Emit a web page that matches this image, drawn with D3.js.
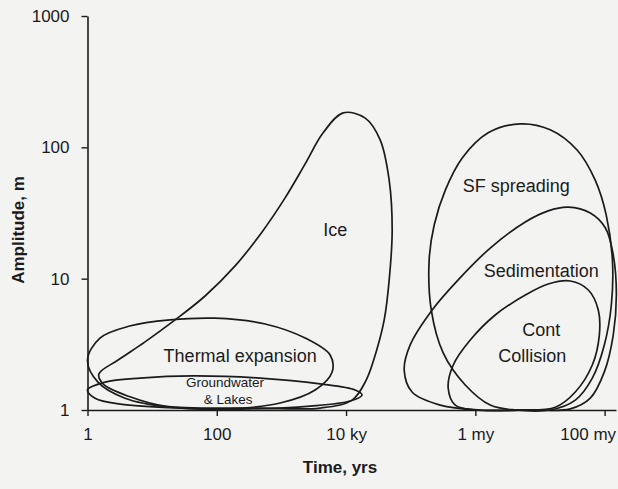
<!DOCTYPE html>
<html>
<head>
<meta charset="utf-8">
<script src="https://cdn.jsdelivr.net/npm/d3@7"></script>
<style>
  html, body { margin: 0; padding: 0; background: #f3f3f2; }
  svg { display: block; }
</style>
</head>
<body>
<svg id="chart" width="618" height="489"></svg>
<script>
// axis ticks
const xTicks = [1, 100, 1e4, 1e6, 1e8];
const xTickLabels = ["1", "100", "10 ky", "1 my", "100 my"];
const yTicks = [1, 10, 100, 1000];

// outlines of each field, [time in yrs, amplitude in m]
const ice = [
    [1.5, 1.88], [2.97, 2.4], [7.77, 3.3], [22.6, 4.85], [65.9, 7.38], [192, 12.5],
    [502, 22.7], [1140, 41.2], [2330, 74.8], [4420, 129], [9020, 183], [19800, 167],
    [33700, 114], [46500, 56], [51700, 23.5], [46500, 9.8], [38900, 4.85],
    [29200, 2.77], [20500, 1.69], [12400, 1.19], [3970, 1.035], [468, 1.035],
    [15.8, 1.07], [4.55, 1.26], [1.74, 1.58]
];
const thermal = [
    [1.0, 2.4], [1.56, 3.53], [4.5, 4.36], [18.9, 4.85], [94, 5.0], [560, 4.52],
    [2330, 3.53], [5670, 2.62], [6090, 1.95], [3320, 1.42], [955, 1.13],
    [161, 1.02], [18.9, 1.05], [3.8, 1.23], [1.45, 1.63]
];
const groundwater = [
    [1.0, 1.42], [1.87, 1.63], [6.5, 1.75], [43, 1.82], [468, 1.75], [3970, 1.58],
    [13800, 1.42], [17700, 1.3], [11600, 1.17], [2780, 1.07], [328, 1.02],
    [27, 1.035], [3.2, 1.11], [1.31, 1.23]
];
const sfSpreading = [
    [4.95e6, 151], [1.44e7, 136], [3.78e7, 95], [7.18e7, 56], [1.06e8, 30.5],
    [1.32e8, 13.9], [1.27e8, 6.3], [9.9e7, 3.13], [6.45e7, 1.75], [3.52e7, 1.19],
    [1.44e7, 1.0], [4.15e6, 1.0], [1.7e6, 1.09], [6.98e5, 1.55], [3.18e5, 2.72],
    [2.08e5, 5.78], [1.93e5, 13.9], [2.31e5, 25.6], [3.42e5, 47], [6.27e5, 83],
    [1.58e6, 129]
];
const sedimentation = [
    [2.74e7, 35], [6.0e7, 31.6], [1.03e8, 24.3], [1.36e8, 15.2], [1.52e8, 7.5],
    [1.36e8, 3.72], [9.9e7, 1.95], [6.0e7, 1.23], [2.95e7, 1.02], [7.08e6, 1.0],
    [1.19e6, 1.0], [2.86e5, 1.09], [1.05e5, 1.37], [7.93e4, 2.02], [9.82e4, 3.13],
    [2.15e5, 5.78], [5.43e5, 9.8], [1.7e6, 17.1], [5.93e6, 27], [1.34e7, 32.8]
];
const contCollision = [
    [2.95e7, 9.6], [5.6e7, 8.2], [7.98e7, 5.78], [8.28e7, 3.72], [6.45e7, 2.2],
    [3.52e7, 1.37], [1.73e7, 1.05], [4.95e6, 1.0], [9.96e5, 1.0], [4.89e5, 1.09],
    [3.8e5, 1.47], [4.55e5, 2.2], [8.34e5, 3.41], [2.03e6, 5.29], [5.93e6, 7.5],
    [1.34e7, 9.1]
];

// field names and where they sit [time, amplitude]
const labelText = ["Ice", "Thermal expansion", "Groundwater", "& Lakes",
    "SF spreading", "Sedimentation", "Cont", "Collision"];
const labelAt = [[6780, 23.5], [230, 2.62], [134, 1.62], [150, 1.21],
    [4.3e6, 51], [1.05e7, 11.6], [1.05e7, 4.07], [7.6e6, 2.62]];
const labelSize = [18, 18, 13.5, 13.5, 18, 18, 18, 18];

const width = 618;
const height = 489;
const font = "'Liberation Sans', Arial, Helvetica, sans-serif";
const ink = "#1b1b1b";

const svg = d3.select("#chart")
    .attr("viewBox", `0 0 ${width} ${height}`)
    .style("font-family", font);

const x = d3.scaleLog().domain([1, 1.5e8]).range([87.5, 616]);
const y = d3.scaleLog().domain([1, 1000]).range([410, 16]);

// Y axis
const yAxis = svg.append("g")
    .attr("transform", `translate(${x(1)},0)`)
    .call(d3.axisLeft(y).tickValues(yTicks).tickFormat(d3.format("d"))
        .tickSize(6).tickSizeOuter(0).tickPadding(12));

// X axis
const xAxis = svg.append("g")
    .attr("transform", `translate(0,${y(1)})`)
    .call(d3.axisBottom(x).tickValues(xTicks).tickFormat((d, i) => xTickLabels[i])
        .tickSize(6).tickSizeOuter(0).tickPadding(12));

[yAxis, xAxis].forEach(a => {
    a.select(".domain").attr("stroke", ink).attr("stroke-width", 1.6);
    a.selectAll(".tick line").attr("stroke", ink).attr("stroke-width", 1.4);
    a.selectAll(".tick text")
        .attr("fill", ink)
        .style("font-family", font)
        .style("font-size", "17px");
});

// last label sits left of its tick so it stays on the page
xAxis.selectAll(".tick text")
    .filter((d, i) => i === xTicks.length - 1)
    .attr("text-anchor", "end")
    .attr("dx", 11);

// field outlines
const line = d3.line()
    .x(d => x(d[0]))
    .y(d => y(d[1]))
    .curve(d3.curveCatmullRomClosed.alpha(0.5));

const fields = [ice, thermal, groundwater, sfSpreading, sedimentation, contCollision];

svg.append("g")
    .selectAll("path")
    .data(fields)
    .enter()
    .append("path")
    .attr("d", line)
    .attr("fill", "none")
    .attr("stroke", ink)
    .attr("stroke-width", 1.7);

// field names
svg.append("g")
    .selectAll("text")
    .data(labelText)
    .enter()
    .append("text")
    .attr("x", (d, i) => x(labelAt[i][0]))
    .attr("y", (d, i) => y(labelAt[i][1]))
    .attr("dy", "0.36em")
    .attr("text-anchor", "middle")
    .attr("fill", ink)
    .style("font-size", (d, i) => labelSize[i] + "px")
    .text(d => d);

// axis titles
svg.append("text")
    .attr("x", 340)
    .attr("y", 473)
    .attr("text-anchor", "middle")
    .attr("fill", ink)
    .style("font-size", "17px")
    .style("font-weight", "bold")
    .text("Time, yrs");

svg.append("text")
    .attr("transform", "translate(24,230) rotate(-90)")
    .attr("text-anchor", "middle")
    .attr("fill", ink)
    .style("font-size", "17px")
    .style("font-weight", "bold")
    .text("Amplitude, m");
</script>
</body>
</html>
